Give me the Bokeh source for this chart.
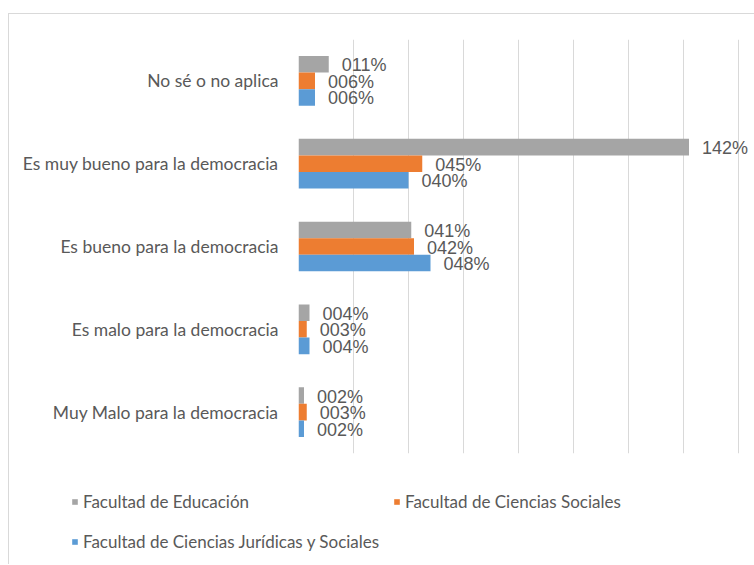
from bokeh.plotting import figure
from bokeh.layouts import column
from bokeh.models import (ColumnDataSource, FactorRange, Range1d, FixedTicker,
                          Legend, LegendItem)
from bokeh.transform import dodge
from bokeh.core.properties import value
from bokeh.embed import file_html
from bokeh.resources import INLINE

categories = ["No sé o no aplica",
              "Es muy bueno para la democracia",
              "Es bueno para la democracia",
              "Es malo para la democracia",
              "Muy Malo para la democracia"]
series_names = ["Facultad de Educación",
                "Facultad de Ciencias Sociales",
                "Facultad de Ciencias Jurídicas y Sociales"]
educacion = [0.11, 1.42, 0.41, 0.04, 0.02]
sociales = [0.06, 0.45, 0.42, 0.03, 0.03]
juridicas = [0.06, 0.40, 0.48, 0.04, 0.02]
labels_educacion = ["011%", "142%", "041%", "004%", "002%"]
labels_sociales = ["006%", "045%", "042%", "003%", "003%"]
labels_juridicas = ["006%", "040%", "048%", "004%", "002%"]
x_ticks = [0, 0.2, 0.4, 0.6, 0.8, 1.0, 1.2, 1.4, 1.6]
colors = ["#a5a5a5", "#ed7d31", "#5b9bd5"]

src = ColumnDataSource(dict(cat=categories,
                            edu=educacion, soc=sociales, jur=juridicas,
                            l_edu=labels_educacion, l_soc=labels_sociales,
                            l_jur=labels_juridicas))

p = figure(width=745, height=450, output_backend="svg", toolbar_location=None,
           y_range=FactorRange(*list(reversed(categories)), range_padding=0,
                               factor_padding=0),
           x_range=Range1d(0, 456 / 275),
           min_border_left=289, min_border_right=0, min_border_top=25,
           min_border_bottom=11)
p.frame_align = False
p.outline_line_color = None
p.background_fill_color = "white"
p.border_fill_color = "white"

fields = ["edu", "soc", "jur"]
lfields = ["l_edu", "l_soc", "l_jur"]
offsets = [0.2, 0.0, -0.2]
for f, lf, off, c in zip(fields, lfields, offsets, colors):
    p.hbar(y=dodge("cat", off, range=p.y_range), right=f, left=0,
           height=0.2, source=src, fill_color=c, line_color=None)
    p.text(x=f, y=dodge("cat", off, range=p.y_range), text=lf, source=src,
           x_offset=13, y_offset=1, text_baseline="middle", text_align="left",
           text_font=value("Liberation Sans"), text_font_size="18px",
           text_color="#595959")

p.xaxis.visible = False
p.xgrid.ticker = FixedTicker(ticks=x_ticks)
p.xgrid.grid_line_color = "#d9d9d9"
p.ygrid.grid_line_color = None

yax = p.yaxis[0]
yax.axis_line_color = None
yax.major_tick_line_color = None
yax.minor_tick_line_color = None
yax.major_tick_out = 0
yax.major_tick_in = 0
yax.major_label_standoff = 20
yax.major_label_text_font = "Lato"
yax.major_label_text_font_size = "17.5px"
yax.major_label_text_color = "#595959"

# legend panel (its bars lie outside its visible x range; only the legend shows)
q = figure(width=745, height=100, output_backend="svg", toolbar_location=None,
           x_range=Range1d(-2, -1), y_range=FactorRange(*categories),
           min_border=0, min_border_left=0, min_border_right=0,
           min_border_top=0, min_border_bottom=0)
q.frame_align = False
q.axis.visible = False
q.grid.visible = False
q.outline_line_color = None
q.border_fill_color = "white"
q.background_fill_color = "white"
leg_r = [q.hbar(y="cat", right=f, left=0, height=0.2, source=src,
                fill_color=c, line_color=None)
         for f, c in zip(fields, colors)]

def make_legend(items, loc):
    return Legend(items=items, location=loc, orientation="vertical",
                  glyph_width=7, glyph_height=7, label_standoff=5,
                  label_text_font="Lato", label_text_font_size="17px",
                  label_text_color="#595959", label_height=34, spacing=6,
                  padding=0, margin=0, border_line_color=None,
                  background_fill_alpha=0)

q.add_layout(make_legend([LegendItem(label=series_names[0], renderers=[leg_r[0]]),
                          LegendItem(label=series_names[2], renderers=[leg_r[2]])],
                         (62, 6)))
q.add_layout(make_legend([LegendItem(label=series_names[1], renderers=[leg_r[1]])],
                         (384, 46)))

layout = column(p, q, spacing=0)
layout.styles = {"margin-top": "13px", "margin-left": "8px",
                 "border-top": "1px solid #d9d9d9",
                 "border-left": "1px solid #d9d9d9"}

open("out.html", "w").write(file_html(layout, INLINE))
